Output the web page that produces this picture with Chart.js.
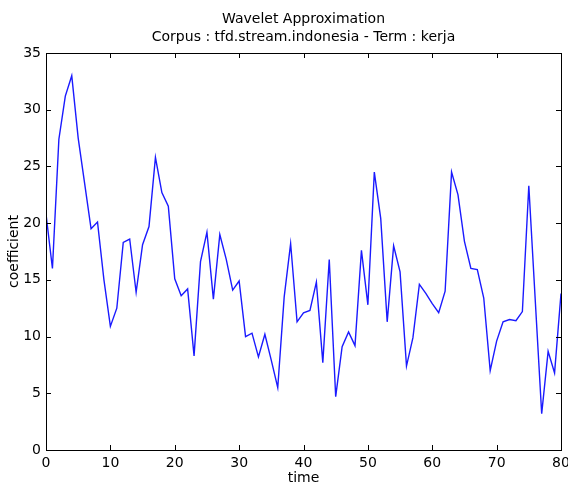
<!DOCTYPE html>
<html>
<head>
<meta charset="utf-8">
<script src="https://cdn.jsdelivr.net/npm/chart.js@4.4.0/dist/chart.umd.min.js"></script>
<style>
  html, body { margin: 0; padding: 0; background: #fff; }
</style>
</head>
<body>
<canvas id="wavelet" width="568" height="485"></canvas>
<script>
// coefficient values, one per time step 0..80
const coefficient = [
  20.8, 16.0, 27.4, 31.2, 33.0, 27.5, 23.5, 19.5, 20.1, 15.0,
  10.9, 12.5, 18.3, 18.6, 13.9, 18.1, 19.7, 25.8, 22.7, 21.5,
  15.1, 13.6, 14.2, 8.3, 16.6, 19.2, 13.3, 19.0, 16.8, 14.1,
  14.9, 10.0, 10.3, 8.2, 10.2, 7.9, 5.5, 13.5, 18.2, 11.3,
  12.1, 12.3, 14.8, 7.7, 16.8, 4.7, 9.1, 10.4, 9.2, 17.6,
  12.8, 24.5, 20.4, 11.3, 18.0, 15.7, 7.4, 9.9, 14.6, 13.8,
  12.9, 12.1, 14.0, 24.5, 22.5, 18.4, 16.0, 15.9, 13.4, 7.0,
  9.6, 11.3, 11.5, 11.4, 12.2, 23.3, 13.2, 3.2, 8.7, 6.8,
  13.8
];
const time = coefficient.map((v, i) => i);
const xTicks = [0, 10, 20, 30, 40, 50, 60, 70, 80];
const yTicks = [0, 5, 10, 15, 20, 25, 30, 35];
const titleLines = ['Wavelet Approximation', 'Corpus : tfd.stream.indonesia - Term : kerja'];

Chart.defaults.color = '#000';
Chart.defaults.font.family = "'DejaVu Sans', sans-serif";
Chart.defaults.font.size = 14;

// matplotlib style frame with inward ticks on all four sides
const frameTicks = {
  id: 'frameTicks',
  afterDraw(chart) {
    const ctx = chart.ctx;
    const a = chart.chartArea;
    const len = 5;
    ctx.save();
    ctx.strokeStyle = '#000';
    ctx.lineWidth = 1;
    ctx.beginPath();
    xTicks.forEach(t => {
      const px = Math.round(chart.scales.x.getPixelForValue(t)) + 0.5;
      ctx.moveTo(px, a.bottom); ctx.lineTo(px, a.bottom - len);
      ctx.moveTo(px, a.top); ctx.lineTo(px, a.top + len);
    });
    yTicks.forEach(t => {
      const py = Math.round(chart.scales.y.getPixelForValue(t)) + 0.5;
      ctx.moveTo(a.left, py); ctx.lineTo(a.left + len, py);
      ctx.moveTo(a.right, py); ctx.lineTo(a.right - len, py);
    });
    ctx.stroke();
    ctx.strokeRect(Math.round(a.left) + 0.5, Math.round(a.top) + 0.5,
      Math.round(a.right - a.left), Math.round(a.bottom - a.top));
    ctx.restore();
  }
};

new Chart(document.getElementById('wavelet'), {
  type: 'line',
  data: {
    labels: time,
    datasets: [{
      label: 'coefficient',
      data: time.map((t, i) => ({ x: t, y: coefficient[i] })),
      borderColor: '#1a1aff',
      borderWidth: 1.4,
      pointRadius: 0,
      fill: false,
      tension: 0
    }]
  },
  options: {
    responsive: false,
    animation: false,
    devicePixelRatio: 1,
    layout: { padding: { left: 0, right: 7, top: 0, bottom: 0 } },
    plugins: {
      legend: { display: false },
      tooltip: { enabled: false },
      title: {
        display: true,
        text: titleLines,
        fullSize: false,
        color: '#000',
        font: { size: 14, weight: 'normal', lineHeight: 18 / 14 },
        padding: { top: 10, bottom: 7 }
      }
    },
    scales: {
      x: {
        type: 'linear',
        min: 0,
        max: 80,
        grid: { display: false, drawTicks: false },
        border: { display: false },
        ticks: { stepSize: 10, padding: 5, maxRotation: 0 },
        title: { display: true, text: 'time', padding: { top: 0, bottom: -2 } },
        afterFit(s) {
          s.height = 35;
          s.paddingLeft = 0;
          s.paddingRight = 0;
        }
      },
      y: {
        min: 0,
        max: 35,
        grid: { display: false, drawTicks: false },
        border: { display: false },
        ticks: { stepSize: 5, padding: 5 },
        title: { display: true, text: 'coefficient', padding: { top: 6, bottom: 0 } },
        afterFit(s) { s.width = 46; }
      }
    }
  },
  plugins: [frameTicks]
});
</script>
</body>
</html>
